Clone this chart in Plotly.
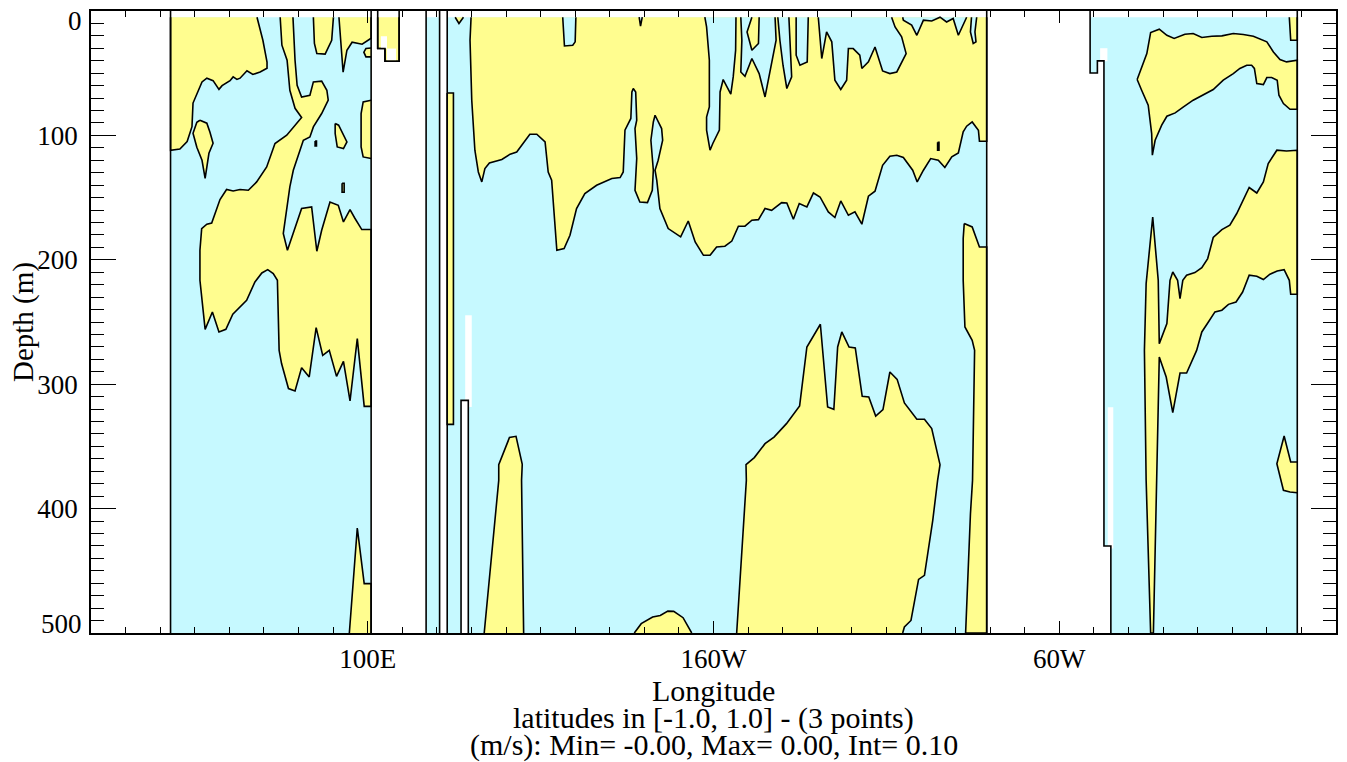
import plotly.graph_objects as go

POS_COLOR = "#FFFD8F"
NEG_COLOR = "#C6F9FF"
LINE_W = 1.6

DATA_TOP = 5.0
DATA_BOTTOM = 500.0

# ---------------- ocean basins (longitude in degrees east, depth in m) ----------------
INDIAN_WEST, INDIAN_EAST = 43.0, 101.0
STRAIT_WEST, STRAIT_EAST = 116.9, 120.8
PACIFIC_WEST, PACIFIC_EAST = 123.0, 279.0
ATLANTIC_EAST = 368.8
ATLANTIC_WEST_LON = [308.9, 308.9, 311.0, 311.0, 312.9, 312.9, 314.9, 314.9]
ATLANTIC_WEST_DEPTH = [0, 49.8, 49.8, 40.1, 40.1, 430.1, 430.1, 500]
SHELF_LON = [102.9, 102.9, 105.0, 105.0, 109.1, 109.1]
SHELF_DEPTH = [0, 30.2, 30.2, 40.4, 40.4, 0]
ISLAND_LON = [127.0, 127.0, 129.1, 129.1]
ISLAND_DEPTH = [500, 313, 313, 500]

# missing-value patches (lon0, lon1, depth0, depth1)
MISSING = [
    (103.8, 105.6, 20.3, 30.2),
    (105.6, 108.2, 30.2, 39.6),
    (128.2, 130.1, 244.6, 318.3),
    (311.8, 313.9, 29.9, 40.4),
    (314.0, 315.6, 318.6, 432.0),
]

# ---------------- positive (yellow) regions ----------------
IND1_LON = [68.0, 69.7, 70.9, 70.9, 68.9, 66.8, 65.1, 63.1, 62.2, 61.1, 60.2, 57.9, 57.0, 55.3, 53.5, 52.1, 49.5, 49.2, 49.2, 47.8, 45.7, 43.0, 43.0]
IND1_DEP = [5, 23.5, 41, 46, 49, 51, 48, 54, 55, 53, 56, 60, 63, 56, 54, 57, 74, 86, 93, 105, 111, 112, 5]

IND2_LON = [51.5, 53.5, 54.4, 55.3, 54.1, 53.0, 52.1, 50.6, 49.5, 50.6, 51.5]
IND2_DEP = [87.8, 90.2, 97.5, 106.3, 114.4, 134.5, 120.0, 109.5, 98.3, 89.4, 87.8]

IND3_LON = [74.7, 75.2, 76.7, 77.5, 79.0, 80.9, 76.6, 73.2, 70.8, 67.9, 65.5, 63.1, 61.1, 59.2, 57.3, 54.9, 53.5, 52.0,
            51.5, 51.5, 53.0, 55.1, 57.0, 59.0, 61.0, 65.0, 67.4, 69.4, 71.1, 72.7, 73.9, 74.4, 75.1, 77.1, 79.0, 80.9,
            83.1, 85.1, 87.0, 88.9, 91.0, 93.0, 94.9, 97.0, 99.0, 101.0, 101.0, 98.3, 96.3, 94.9, 93.0, 91.5, 89.1, 86.7,
            85.3, 83.8, 80.9, 78.4, 76.8, 75.6, 76.6, 77.5, 78.5, 81.4, 83.3, 84.3, 86.7, 88.6, 88.2, 86.7, 84.3, 83.3,
            80.9, 79.6, 79.0, 78.4]
IND3_DEP = [5, 27.5, 39.6, 63.7, 78.2, 85.6, 99.9, 106.5, 125.4, 137.4, 144.1, 143.5, 144.7, 143.5, 151.6, 170.4, 171.4, 174.9,
            192.3, 216.5, 255.9, 242.0, 258.0, 255.9, 243.8, 232.5, 217.8, 210.6, 207.9, 211.1, 216.5, 272.8, 283.4, 303.5, 305.5, 286.7,
            294.2, 254.5, 276.8, 272.8, 293.7, 281.6, 313.5, 263.3, 317.8, 317.8, 175.7, 175.7, 166.6, 159.6, 169.6, 156.2, 153.5, 176.3,
            193.1, 157.5, 158.8, 178.7, 192.3, 178.9, 160.2, 141.4, 128.0, 103.9, 101.2, 93.2, 82.4, 71.7, 63.7, 56.4, 57.0, 67.7,
            69.1, 59.7, 39.6, 5]

IND4_LON = [84.3, 84.6, 85.3, 87.7, 89.6, 90.1]
IND4_DEP = [5, 26.1, 34.2, 34.7, 23.5, 5]
IND5_LON = [91.7, 92.0, 92.9, 94.0, 95.5, 98.4, 101.0, 101.0]
IND5_DEP = [5, 15.4, 49.2, 31.5, 25.1, 26.7, 21.9, 5]
IND6_LON = [101.0, 98.7, 98.1, 98.1, 98.7, 101.0]
IND6_DEP = [71.7, 73.1, 82.4, 109.3, 117.3, 118.6]
IND7_LON = [90.6, 91.6, 94.0, 93.0, 91.2, 90.6, 90.6]
IND7_DEP = [90.5, 91.8, 105.3, 110.6, 109.3, 98.5, 90.5]
IND8_LON = [101.0, 99.5, 98.9, 99.5, 101.0]
IND8_DEP = [29.7, 30.2, 33.1, 36.9, 36.9]
IND9_LON = [94.7, 97.0, 99.0, 101.0, 101.0]
IND9_DEP = [500, 415.6, 460.3, 460.3, 500]
SHELF_POS_LON = [102.9, 102.9, 105.0, 105.0, 109.1, 109.1]
SHELF_POS_DEP = [5, 30.2, 30.2, 40.4, 40.4, 5]

WPAC_STRIP_LON = [123.0, 124.8, 124.8, 123.0, 123.0]
WPAC_STRIP_DEP = [65.9, 65.9, 332.3, 332.3, 65.9]
WPAC_V_LON = [125.3, 126.4, 127.7]
WPAC_V_DEP = [5, 10, 5]

PAC1_LON = [129.9, 129.6, 130.1, 131.0, 132.0, 133.0, 133.9, 135.2, 138.8, 141.2, 143.1, 146.9, 148.9, 151.3, 152.2, 153.2,
            154.7, 156.8, 158.5, 160.4, 162.8, 166.2, 170.6, 173.0, 173.9, 174.4, 176.1, 176.4, 176.8, 177.5, 177.8, 177.3,
            177.8, 177.3, 178.7, 180.9, 182.3, 182.6, 181.9, 182.6, 183.1, 185.0, 185.3, 184.0, 183.1, 183.6, 184.5, 186.9,
            190.5, 192.7, 194.7, 197.1, 199.0, 200.9, 203.3, 205.3, 207.2, 209.1, 211.1, 213.0, 214.9, 216.8, 219.7, 221.2,
            223.1, 224.8, 227.0, 228.9, 230.8, 233.2, 235.1, 236.8, 239.0, 240.9, 242.9, 244.8, 246.7, 248.9, 251.0, 253.0,
            254.9, 257.6, 258.9, 260.7, 262.8, 265.0, 266.9, 268.9, 270.8, 272.2, 273.2, 274.8, 276.6, 276.9, 279.0, 279.0]
PAC1_DEP = [5, 23.5, 71.7, 111.9, 129.4, 137.4, 126.6, 122.1, 119.4, 115.1, 113.3, 99.1, 99.1, 105.3, 129.4, 136.1,
            192.3, 191.0, 180.3, 158.8, 146.7, 140.1, 134.7, 133.9, 129.4, 95.8, 86.4, 65.1, 62.3, 65.1, 87.8, 94.5,
            118.6, 144.1, 153.5, 154.0, 144.1, 128.0, 103.9, 89.2, 83.8, 94.5, 103.9, 120.0, 128.0, 136.1, 158.8, 174.9,
            181.6, 168.8, 185.7, 196.4, 196.4, 189.7, 189.1, 184.9, 173.0, 173.0, 168.2, 167.7, 158.8, 160.2, 154.0, 154.3,
            167.4, 154.8, 157.5, 146.3, 149.5, 161.5, 166.0, 152.7, 164.2, 161.5, 171.4, 148.9, 144.9, 124.0, 116.8, 116.0,
            117.8, 128.0, 137.4, 128.0, 118.6, 120.0, 125.8, 117.3, 114.1, 97.2, 92.6, 89.2, 95.8, 104.7, 104.7, 5]

PAC2_LON = [272.5, 274.8, 276.9, 279.0, 279.0, 272.9, 274.3, 274.9, 275.5, 274.8, 272.7, 272.2, 272.2, 272.5]
PAC2_DEP = [170.9, 173.6, 189.7, 189.7, 500, 500, 404.1, 377.3, 272.8, 264.7, 254.0, 216.5, 182.9, 170.9]

PAC3_LON = [206.7, 209.5, 209.4, 211.8, 214.9, 217.5, 221.1, 224.9, 227.0, 230.9, 233.0, 234.8, 235.9, 237.1, 239.2, 241.0,
            243.0, 244.9, 246.9, 249.0, 251.0, 253.1, 255.2, 258.8, 261.0, 263.1, 265.5, 264.8, 263.4, 261.0, 259.3, 257.1,
            255.2, 254.7]
PAC3_DEP = [500, 377.3, 364.7, 359.0, 347.8, 342.5, 331.7, 317.5, 270.1, 251.8, 318.3, 320.2, 270.1, 258.0, 270.1, 270.9,
            309.7, 310.3, 325.6, 320.4, 290.2, 296.1, 315.1, 328.2, 328.2, 335.7, 364.7, 377.3, 409.4, 453.7, 456.9, 489.9,
            495.2, 500]

PAC4_LON = [177.1, 179.1, 182.4, 184.6, 186.8, 188.5, 191.2, 193.7]
PAC4_DEP = [500, 492.5, 487.2, 485.9, 482.4, 482.6, 487.7, 500]

PAC5_LON = [133.7, 137.9, 137.9, 141.0, 142.9, 144.7, 144.5, 145.1]
PAC5_DEP = [500, 377.3, 364.7, 342.9, 341.9, 364.4, 377.3, 500]

EPAC_FINGER_LON = [211.1, 209.7, 211.1, 213.0, 213.2]
EPAC_FINGER_DEP = [5, 16.8, 31.5, 26.1, 5]

ATL1_LON = [322.5, 325.3, 326.4, 328.9, 331.1, 333.2, 336.3, 338.7, 341.2, 344.1, 347.0, 350.3, 353.2, 356.1, 360.0, 361.9,
            363.8, 365.7, 368.8, 368.8, 366.7, 364.8, 363.5, 363.0, 361.4, 360.0, 359.0, 357.1, 356.4, 355.6, 354.2, 352.2,
            350.3, 347.4, 344.5, 338.7, 335.9, 333.5, 331.1, 329.6, 327.7, 326.9, 326.7, 325.7, 323.8, 322.5]
ATL1_DEP = [55.1, 34.2, 17.3, 14.6, 19.5, 22.1, 18.7, 18.1, 21.3, 20.3, 20.0, 18.1, 18.9, 20.3, 24.8, 32.9,
            39.0, 40.9, 39.6, 79.0, 79.0, 74.4, 67.7, 55.6, 53.5, 53.5, 59.1, 58.3, 46.2, 43.6, 43.6, 46.2,
            50.3, 55.6, 63.1, 71.7, 77.1, 81.9, 84.6, 91.8, 103.9, 115.9, 98.5, 75.7, 63.7, 55.1]

ATL2_LON = [366.5, 366.9, 368.8, 368.8]
ATL2_DEP = [5, 23.5, 23.5, 5]

ATL3_LON = [368.8, 365.7, 362.9, 360.4, 359.0, 357.1, 354.9, 351.3, 349.3, 347.0, 344.5, 343.6, 342.9, 341.2, 339.2, 336.8,
            335.7, 334.9, 334.2, 332.8, 332.0, 331.1, 328.9, 328.6, 327.0, 325.1, 324.6, 325.1, 326.4, 327.2, 328.2, 328.9,
            330.9, 332.8, 334.9, 336.8, 339.7, 341.2, 343.1, 345.0, 347.0, 348.9, 351.1, 353.0, 354.9, 357.1, 359.0, 360.9,
            363.0, 365.0, 366.5, 366.9, 368.8, 368.8]
ATL3_DEP = [111.9, 112.5, 111.9, 122.6, 137.4, 146.3, 141.9, 162.8, 172.2, 175.7, 182.1, 192.3, 199.0, 206.3, 210.3, 212.4,
            216.5, 231.2, 216.5, 209.8, 216.5, 251.3, 267.4, 216.5, 165.6, 219.1, 272.8, 377.3, 500, 500, 377.3, 278.1,
            294.2, 322.8, 291.0, 291.0, 272.8, 258.0, 250.0, 241.9, 240.5, 235.8, 233.9, 225.9, 212.4, 213.2, 215.9, 211.6,
            209.0, 207.9, 216.5, 227.7, 227.7, 111.9]

ATL4_LON = [368.8, 366.9, 365.0, 362.9, 364.8, 366.7, 368.8]
ATL4_DEP = [362.6, 362.6, 341.7, 363.9, 385.3, 386.7, 387.2]

# ---------------- negative (cyan) pockets inside yellow regions ----------------
LOBE_LON = [197.5, 198.0, 198.8, 198.8, 198.0, 198.0, 199.0, 199.8, 201.7, 201.9, 202.8, 205.0, 205.7, 206.4, 206.5]
LOBE_DEP = [5, 12.8, 39.6, 77.1, 85.2, 95.8, 111.9, 106.5, 95.8, 65.1, 55.1, 66.9, 53.0, 31.5, 5]
CUP_LON = [156.4, 156.6, 156.9, 159.3, 160.0, 160.2]
CUP_DEP = [5, 18.1, 28.1, 27.5, 24.8, 5]
NOTCH_LON = [178.5, 178.9, 179.4]
NOTCH_DEP = [5, 12.2, 5]
EPAC1_LON = [207.9, 208.2, 207.9, 209.1, 211.1, 213.2, 214.9, 216.8, 218.1, 217.8]
EPAC1_DEP = [5, 23.5, 49.0, 52.4, 38.2, 50.3, 69.1, 42.2, 23.5, 5]
EPAC6_LON = [218.6, 219.2, 220.1, 221.2, 222.6, 222.1, 221.8]
EPAC6_DEP = [5, 23.5, 43.6, 62.3, 53.0, 23.5, 5]
EPAC2_LON = [223.9, 223.9, 225.0, 227.1, 227.4]
EPAC2_DEP = [5, 35.5, 43.6, 40.9, 5]
EPAC3_LON = [230.3, 231.3, 232.7, 234.2, 235.1, 236.8, 238.5, 239.0, 240.4, 242.3, 242.9, 244.8, 246.7, 248.9, 251.0, 253.0,
             255.7, 254.4, 252.5, 251.5]
EPAC3_DEP = [5, 38.2, 16.8, 24.8, 55.6, 63.1, 55.6, 30.2, 30.2, 35.5, 46.2, 40.9, 28.9, 48.2, 50.3, 49.0,
             34.2, 20.8, 12.8, 5]
EPAC4_LON = [254.7, 254.9, 257.3, 258.8, 260.7, 263.1, 265.5, 267.4, 269.3, 270.8, 273.2]
EPAC4_DEP = [5, 7.4, 11.4, 19.5, 7.4, 8.0, 5, 8.8, 6.0, 19.5, 5]
EPAC5_LON = [274.6, 274.3, 275.1, 275.9, 275.6, 276.1]
EPAC5_DEP = [5, 16.8, 26.1, 24.8, 16.8, 5]
DOT1_LON = [264.8, 265.2, 265.2, 264.8, 264.8]
DOT1_DEP = [105.5, 105.5, 111.9, 111.9, 105.5]

# small closed positive contours inside negative areas
DOT2_LON = [84.8, 85.2, 85.2, 84.8, 84.8]
DOT2_DEP = [104.5, 104.5, 108.5, 108.5, 104.5]
DOT3_LON = [92.6, 93.2, 93.2, 92.6, 92.6]
DOT3_DEP = [138.5, 138.5, 145.7, 145.7, 138.5]

# ---------------- axis text ----------------
X_TICK_VALUES = [100, 200, 300]
X_TICK_LABELS = ["100E", "160W", "60W"]
Y_TICK_VALUES = [0, 100, 200, 300, 400, 500]
Y_TICK_LABELS = ["", "100", "200", "300", "400", ""]
Y_END_LABELS = [("0", 0), ("500", 500)]
X_TITLE = "Longitude"
Y_TITLE = "Depth (m)"
SUBTITLE_1 = "latitudes in [-1.0, 1.0] - (3 points)"
SUBTITLE_2 = "(m/s): Min= -0.00, Max= 0.00, Int= 0.10"

FONT = "Liberation Serif"

fig = go.Figure()


def shape(lon, dep, fill, stroke=True, width=LINE_W):
    fig.add_trace(go.Scatter(
        x=list(lon), y=list(dep), mode="lines", fill="toself", fillcolor=fill,
        line=dict(color="black" if stroke else "rgba(0,0,0,0)", width=width if stroke else 0),
        hoverinfo="skip", showlegend=False))


def line(lon, dep, width=LINE_W):
    fig.add_trace(go.Scatter(x=list(lon), y=list(dep), mode="lines",
                             line=dict(color="black", width=width),
                             hoverinfo="skip", showlegend=False))


def top_clip(depths):
    return [max(d, DATA_TOP) for d in depths]


# basin fills
for w, e in [(INDIAN_WEST, INDIAN_EAST), (STRAIT_WEST, STRAIT_EAST), (PACIFIC_WEST, PACIFIC_EAST)]:
    shape([w, w, e, e], [DATA_TOP, DATA_BOTTOM, DATA_BOTTOM, DATA_TOP], NEG_COLOR, stroke=False)
shape(ATLANTIC_WEST_LON + [ATLANTIC_EAST, ATLANTIC_EAST],
      top_clip(ATLANTIC_WEST_DEPTH) + [DATA_BOTTOM, DATA_TOP], NEG_COLOR, stroke=False)

# positive regions
for lo, de in [(IND1_LON, IND1_DEP), (IND3_LON, IND3_DEP), (IND4_LON, IND4_DEP), (IND5_LON, IND5_DEP),
               (IND6_LON, IND6_DEP), (IND8_LON, IND8_DEP), (IND9_LON, IND9_DEP), (SHELF_POS_LON, SHELF_POS_DEP),
               (WPAC_STRIP_LON, WPAC_STRIP_DEP), (PAC1_LON, PAC1_DEP), (PAC2_LON, PAC2_DEP), (PAC3_LON, PAC3_DEP),
               (PAC4_LON, PAC4_DEP), (PAC5_LON, PAC5_DEP), (ATL1_LON, ATL1_DEP), (ATL2_LON, ATL2_DEP),
               (ATL3_LON, ATL3_DEP), (ATL4_LON, ATL4_DEP)]:
    shape(lo, de, POS_COLOR)

# negative pockets
for lo, de in [(LOBE_LON, LOBE_DEP), (CUP_LON, CUP_DEP), (NOTCH_LON, NOTCH_DEP), (EPAC1_LON, EPAC1_DEP),
               (EPAC6_LON, EPAC6_DEP), (EPAC2_LON, EPAC2_DEP), (EPAC3_LON, EPAC3_DEP), (EPAC4_LON, EPAC4_DEP),
               (EPAC5_LON, EPAC5_DEP), (DOT1_LON, DOT1_DEP)]:
    shape(lo, de, NEG_COLOR)

# small positive features drawn over negative areas
for lo, de in [(IND2_LON, IND2_DEP), (IND7_LON, IND7_DEP), (WPAC_V_LON, WPAC_V_DEP),
               (DOT2_LON, DOT2_DEP), (DOT3_LON, DOT3_DEP), (EPAC_FINGER_LON, EPAC_FINGER_DEP)]:
    shape(lo, de, POS_COLOR)

# missing data
for l0, l1, d0, d1 in MISSING:
    shape([l0, l1, l1, l0], [d0, d0, d1, d1], "white", stroke=False)

# coastlines
for lon in [INDIAN_WEST, INDIAN_EAST, STRAIT_WEST, STRAIT_EAST, PACIFIC_WEST, PACIFIC_EAST, ATLANTIC_EAST]:
    line([lon, lon], [0, DATA_BOTTOM])
line(ATLANTIC_WEST_LON, ATLANTIC_WEST_DEPTH)
line(SHELF_LON, SHELF_DEPTH)
shape(ISLAND_LON, ISLAND_DEPTH, "white")

# ---------------- layout (the page body adds an 8 px offset) ----------------
PAGE_OFFSET = 8
FIG_W, FIG_H = 1347 - PAGE_OFFSET, 762 - PAGE_OFFSET
PLOT_L, PLOT_R, PLOT_T, PLOT_B = 91, 1336, 11, 633   # target pixel box of the frame
PW, PH = PLOT_R - PLOT_L, PLOT_B - PLOT_T


def py(y_pixel):
    return (PLOT_B - y_pixel) / PH


def px(x_pixel):
    return (x_pixel - PLOT_L) / PW


tickfont = dict(family=FONT, size=27, color="black")
titlefont = dict(family=FONT, size=30, color="black")
annotations = [
    dict(text=X_TITLE, x=0.5, y=py(690), xref="paper", yref="paper", showarrow=False,
         xanchor="center", yanchor="middle", font=titlefont),
    dict(text=Y_TITLE, x=px(23), y=0.5, xref="paper", yref="paper", showarrow=False, textangle=-90,
         xanchor="center", yanchor="middle", font=dict(family=FONT, size=29, color="black")),
    dict(text=SUBTITLE_1, x=0.5, y=py(718), xref="paper", yref="paper", showarrow=False,
         xanchor="center", yanchor="middle", font=titlefont),
    dict(text=SUBTITLE_2, x=0.5, y=py(745), xref="paper", yref="paper", showarrow=False,
         xanchor="center", yanchor="middle", font=titlefont),
]
# end labels of the depth axis are kept inside the frame, as in the original
for txt, val in Y_END_LABELS:
    ypix = 21 if val == 0 else 624
    annotations.append(dict(text=txt, x=px(84), y=py(ypix), xref="paper", yref="paper", showarrow=False,
                            xanchor="right", yanchor="middle", font=tickfont))

fig.update_layout(
    width=FIG_W, height=FIG_H,
    margin=dict(l=PLOT_L - PAGE_OFFSET, r=PAGE_OFFSET + FIG_W - PLOT_R, t=PLOT_T - PAGE_OFFSET,
                b=PAGE_OFFSET + FIG_H - PLOT_B, autoexpand=False),
    paper_bgcolor="white", plot_bgcolor="white",
    showlegend=False,
    xaxis=dict(range=[20, 380], tickmode="array", tickvals=X_TICK_VALUES, ticktext=X_TICK_LABELS,
               ticks="inside", ticklen=12, tickwidth=1, tickcolor="black",
               minor=dict(ticks="inside", ticklen=6, dtick=10, tick0=0, tickcolor="black", tickwidth=1, showgrid=False),
               mirror="allticks", showline=True, linecolor="black", linewidth=1.5,
               showgrid=False, zeroline=False, tickfont=tickfont, automargin=False, ticklabelstandoff=1),
    yaxis=dict(range=[500, 0], tickmode="array", tickvals=Y_TICK_VALUES, ticktext=Y_TICK_LABELS,
               ticks="inside", ticklen=25, tickwidth=1, tickcolor="black",
               minor=dict(ticks="inside", ticklen=13, dtick=10, tick0=0, tickcolor="black", tickwidth=1, showgrid=False),
               mirror="allticks", showline=True, linecolor="black", linewidth=1.5,
               showgrid=False, zeroline=False, tickfont=tickfont, ticklabelstandoff=6,
               automargin=False),
    annotations=annotations,
)

fig.write_html("out.html")
